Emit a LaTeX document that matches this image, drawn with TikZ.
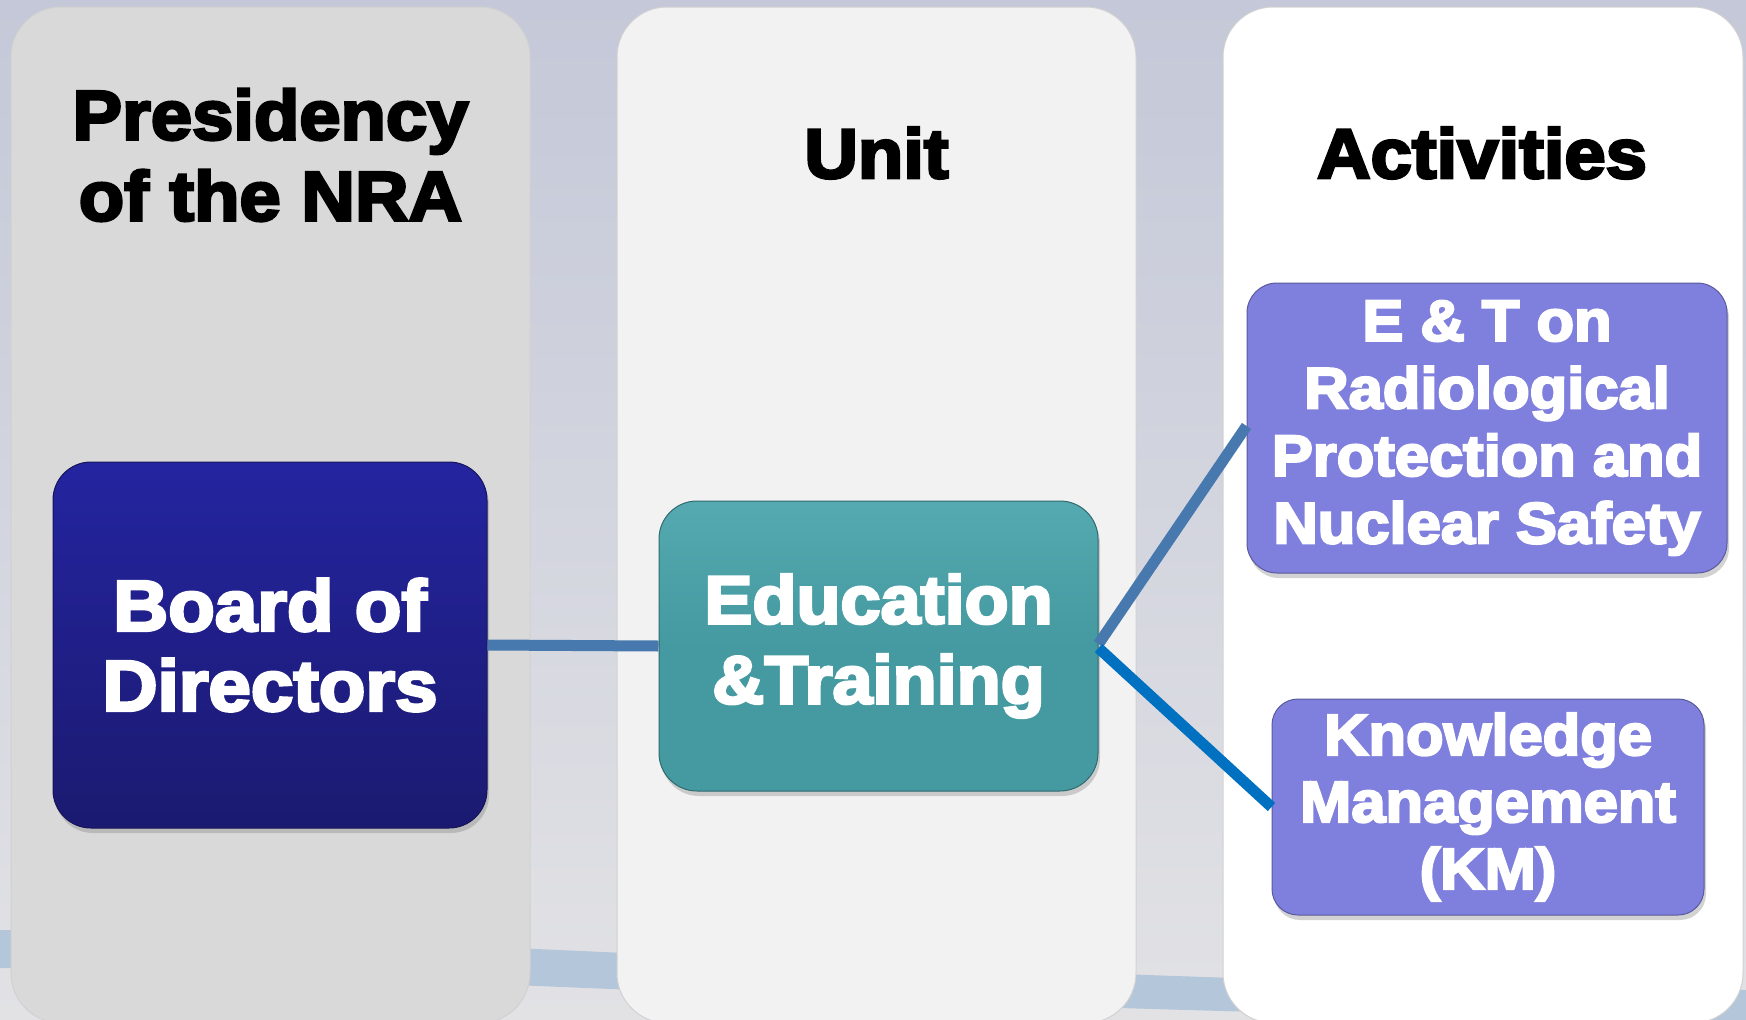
\documentclass[tikz,border=0pt]{standalone}
\usepackage{fontspec}
\setmainfont{Liberation Sans}
\newfontfamily\heavy{Liberation Sans Bold}[FakeBold=4,FakeStretch=1.06]
\usetikzlibrary{shadows}
\definecolor{bgtop}{RGB}{196,200,216}
\definecolor{bgbot}{RGB}{226,226,229}
\definecolor{swoosh}{RGB}{180,198,218}
\definecolor{colA}{RGB}{217,217,217}
\definecolor{colB}{RGB}{242,242,242}
\definecolor{colC}{RGB}{255,255,255}
\definecolor{boardtop}{RGB}{36,36,160}
\definecolor{boardbot}{RGB}{27,26,112}
\definecolor{tealc}{RGB}{69,153,160}
\definecolor{tealtop}{RGB}{84,170,176}
\definecolor{purp}{RGB}{127,128,221}
\definecolor{lineA}{RGB}{72,121,174}
\definecolor{lineB}{RGB}{0,112,192}
\tikzset{
  column/.style={rectangle, rounded corners=50pt, draw=black!18, line width=1pt, inner sep=0pt},
  title/.style={align=center, text=black, font=\heavy\fontsize{70}{81}\selectfont},
  box/.style={rectangle, rounded corners=38pt, inner sep=0pt, align=center, text=white,
    drop shadow={opacity=0.35, shadow xshift=2pt, shadow yshift=-5pt}},
  conn/.style={line width=11pt}
}
\begin{document}
\begin{tikzpicture}[x=1pt,y=-1pt]
\useasboundingbox (0,0) rectangle (1746,1020);
\shade[top color=bgtop, bottom color=bgbot] (0,0) rectangle (1746,1020);
\fill[swoosh] (0,930) .. controls (500,940) and (1000,980) .. (1746,990) -- (1746,1020) .. controls (1000,1015) and (500,978) .. (0,968) -- cycle;
% columns
\node[column, fill=colA, minimum width=519pt, minimum height=1016pt] (colP) at (270.5,515) {};
\node[column, fill=colB, minimum width=519pt, minimum height=1016pt] (colU) at (876.5,515) {};
\node[column, fill=colC, minimum width=520pt, minimum height=1016pt] (colA) at (1483,515) {};
% titles
\node[title] (tP) at (270.5,155) {Presidency\\of the NRA};
\node[title] (tU) at (876.5,153) {Unit};
\node[title] (tA) at (1482,153) {Activities};
% boxes
\node[box, top color=boardtop, bottom color=boardbot, draw=boardbot!80!black, line width=1pt,
  minimum width=434pt, minimum height=366pt,
  font=\heavy\fontsize{72}{80}\selectfont] (board) at (270,645) {Board of\\Directors};
\node[box, top color=tealtop, bottom color=tealc, middle color=tealc, draw=tealc!70!black, line width=1pt,
  minimum width=439pt, minimum height=290pt,
  font=\heavy\fontsize{68}{80}\selectfont] (et) at (878.5,646) {Education\\\&Training};
\node[box, fill=purp, draw=purp!70!black, line width=1pt, rounded corners=30pt,
  minimum width=480pt, minimum height=290pt,
  font=\heavy\fontsize{58}{67.5}\selectfont] (rp) at (1487,428) {E \& T on\\Radiological\\Protection and\\Nuclear Safety};
\node[box, fill=purp, draw=purp!70!black, line width=1pt, rounded corners=26pt,
  minimum width=432pt, minimum height=216pt,
  font=\heavy\fontsize{58}{67}\selectfont] (km) at (1488,807) {Knowledge\\Management\\(KM)};
% connectors
\draw[conn, lineA] (board.east) -- (et.west);
\draw[conn, lineA] ([yshift=2pt]et.east) -- ([yshift=2pt]rp.west);
\draw[conn, lineB] ([yshift=-2pt]et.east) -- (km.west);
\end{tikzpicture}
\end{document}
